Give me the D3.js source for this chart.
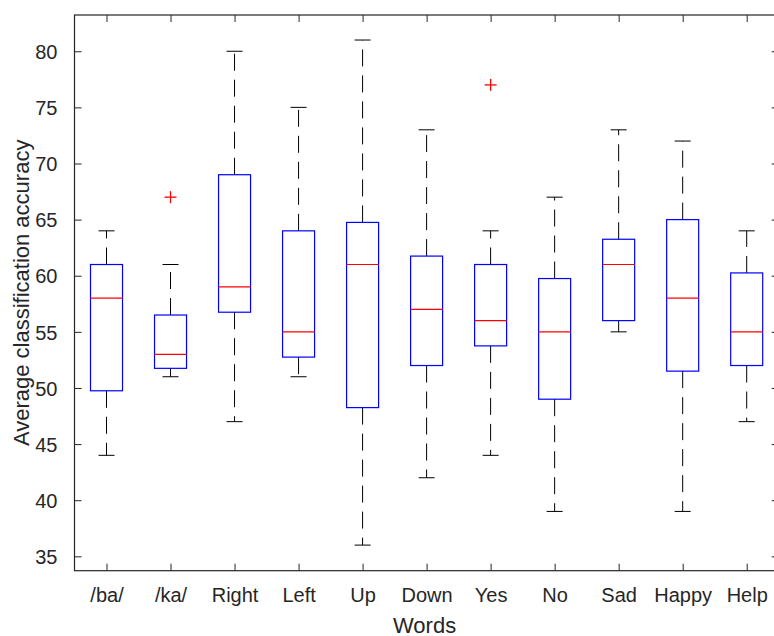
<!DOCTYPE html>
<html>
<head>
<meta charset="utf-8">
<script src="https://cdn.jsdelivr.net/npm/d3@7"></script>
<style>
  html, body { margin: 0; padding: 0; background: #fff; }
  svg { display: block; font-family: "Liberation Sans", Arial, Helvetica, sans-serif; }
</style>
</head>
<body>
<svg id="chart" width="774" height="636"></svg>
<script>
// ---- data ----
const categories = ["/ba/", "/ka/", "Right", "Left", "Up", "Down", "Yes", "No", "Sad", "Happy", "Help"];
const whiskerLow  = [44, 51, 47, 51, 36, 42, 44, 39, 55, 39, 47];
const q1          = [49.75, 51.75, 56.75, 52.75, 48.25, 52, 53.75, 49, 56, 51.5, 52];
const medians     = [58, 53, 59, 55, 61, 57, 56, 55, 61, 58, 55];
const q3          = [61, 56.5, 69, 64, 64.75, 61.75, 61, 59.75, 63.25, 65, 60.25];
const whiskerHigh = [64, 61, 80, 75, 81, 73, 64, 67, 73, 72, 64];
const outliers    = [{cat: "/ka/", value: 67}, {cat: "Yes", value: 77}];
const yTicks      = [35, 40, 45, 50, 55, 60, 65, 70, 75, 80];
const xLabel = "Words";
const yLabel = "Average classification accuracy";

// ---- layout ----
const padL = 74.5, padR = 778.7, padT = 15, padB = 570.7;
const axisColor = "#262626";
const svg = d3.select("#chart");

const x = d3.scaleLinear().domain([0.5, categories.length + 0.5]).range([padL, padR]);
const y = d3.scaleLinear().domain([33.72, 83.23]).range([padB, padT]);
const pos = i => x(i + 1);
const boxHalf = (x(1.25) - x(1));
const capHalf = (x(1.125) - x(1));

const rows = categories.map((c, i) => ({
  c, i, lo: whiskerLow[i], q1: q1[i], med: medians[i], q3: q3[i], hi: whiskerHigh[i]
}));

const g = svg.append("g");

// whiskers (dashed)
g.selectAll(".wUp").data(rows).join("line").attr("class", "wUp")
  .attr("x1", d => pos(d.i)).attr("x2", d => pos(d.i))
  .attr("y1", d => y(d.q3)).attr("y2", d => y(d.hi))
  .attr("stroke", "#000").attr("stroke-width", 1).attr("stroke-dasharray", "17,9");
g.selectAll(".wDn").data(rows).join("line").attr("class", "wDn")
  .attr("x1", d => pos(d.i)).attr("x2", d => pos(d.i))
  .attr("y1", d => y(d.q1)).attr("y2", d => y(d.lo))
  .attr("stroke", "#000").attr("stroke-width", 1).attr("stroke-dasharray", "17,9");

// caps
["hi", "lo"].forEach(k => {
  g.selectAll(".cap" + k).data(rows).join("line").attr("class", "cap" + k)
    .attr("x1", d => pos(d.i) - capHalf).attr("x2", d => pos(d.i) + capHalf)
    .attr("y1", d => y(d[k])).attr("y2", d => y(d[k]))
    .attr("stroke", "#000").attr("stroke-width", 1);
});

// boxes
g.selectAll(".box").data(rows).join("rect").attr("class", "box")
  .attr("x", d => pos(d.i) - boxHalf).attr("width", 2 * boxHalf)
  .attr("y", d => y(d.q3)).attr("height", d => y(d.q1) - y(d.q3))
  .attr("fill", "none").attr("stroke", "#0000ff").attr("stroke-width", 1.2);

// medians
g.selectAll(".med").data(rows).join("line").attr("class", "med")
  .attr("x1", d => pos(d.i) - boxHalf).attr("x2", d => pos(d.i) + boxHalf)
  .attr("y1", d => y(d.med)).attr("y2", d => y(d.med))
  .attr("stroke", "#ff0000").attr("stroke-width", 1.2);

// outliers (+)
const om = 6;
const og = g.selectAll(".out").data(outliers).join("g").attr("class", "out")
  .attr("transform", d => `translate(${pos(categories.indexOf(d.cat))},${y(d.value)})`);
og.append("line").attr("x1", -om).attr("x2", om).attr("y1", 0).attr("y2", 0)
  .attr("stroke", "#ff0000").attr("stroke-width", 1.3);
og.append("line").attr("x1", 0).attr("x2", 0).attr("y1", -om).attr("y2", om)
  .attr("stroke", "#ff0000").attr("stroke-width", 1.3);

// ---- axes ----
const tickLen = 7;
const xTickVals = categories.map((c, i) => i + 1);

const xAxisB = d3.axisBottom(x).tickValues(xTickVals).tickFormat(v => categories[v - 1])
  .tickSizeInner(-tickLen).tickSizeOuter(0).tickPadding(17);
const gxb = svg.append("g").attr("transform", `translate(0,${padB})`).call(xAxisB);

const xAxisT = d3.axisTop(x).tickValues(xTickVals).tickFormat("")
  .tickSizeInner(-tickLen).tickSizeOuter(0);
const gxt = svg.append("g").attr("transform", `translate(0,${padT})`).call(xAxisT);

const yAxisL = d3.axisLeft(y).tickValues(yTicks).tickFormat(d3.format("d"))
  .tickSizeInner(-tickLen).tickSizeOuter(0).tickPadding(17);
const gyl = svg.append("g").attr("transform", `translate(${padL},0)`).call(yAxisL);

const yAxisR = d3.axisRight(y).tickValues(yTicks).tickFormat("")
  .tickSizeInner(-tickLen).tickSizeOuter(0);
const gyr = svg.append("g").attr("transform", `translate(${padR},0)`).call(yAxisR);

[gxb, gxt, gyl, gyr].forEach(a => {
  a.select(".domain").remove();
  a.selectAll("line").attr("stroke", axisColor).attr("stroke-width", 1);
  a.selectAll("text").attr("fill", axisColor).style("font-size", "20px")
    .style("font-family", '"Liberation Sans", Arial, sans-serif');
});
gyl.selectAll("text").attr("dy", "0.36em");
gxb.selectAll("text").attr("dy", "0.71em");

// frame
svg.append("rect").attr("x", padL).attr("y", padT)
  .attr("width", padR - padL).attr("height", padB - padT)
  .attr("fill", "none").attr("stroke", axisColor).attr("stroke-width", 1.2);

// axis labels
svg.append("text").attr("x", (padL + padR) / 2 - 2).attr("y", 633)
  .attr("text-anchor", "middle").attr("fill", axisColor).style("font-size", "22px")
  .text(xLabel);
svg.append("text").attr("transform", `translate(29,${(padT + padB) / 2}) rotate(-90)`)
  .attr("text-anchor", "middle").attr("fill", axisColor).style("font-size", "22px")
  .text(yLabel);
</script>
</body>
</html>
